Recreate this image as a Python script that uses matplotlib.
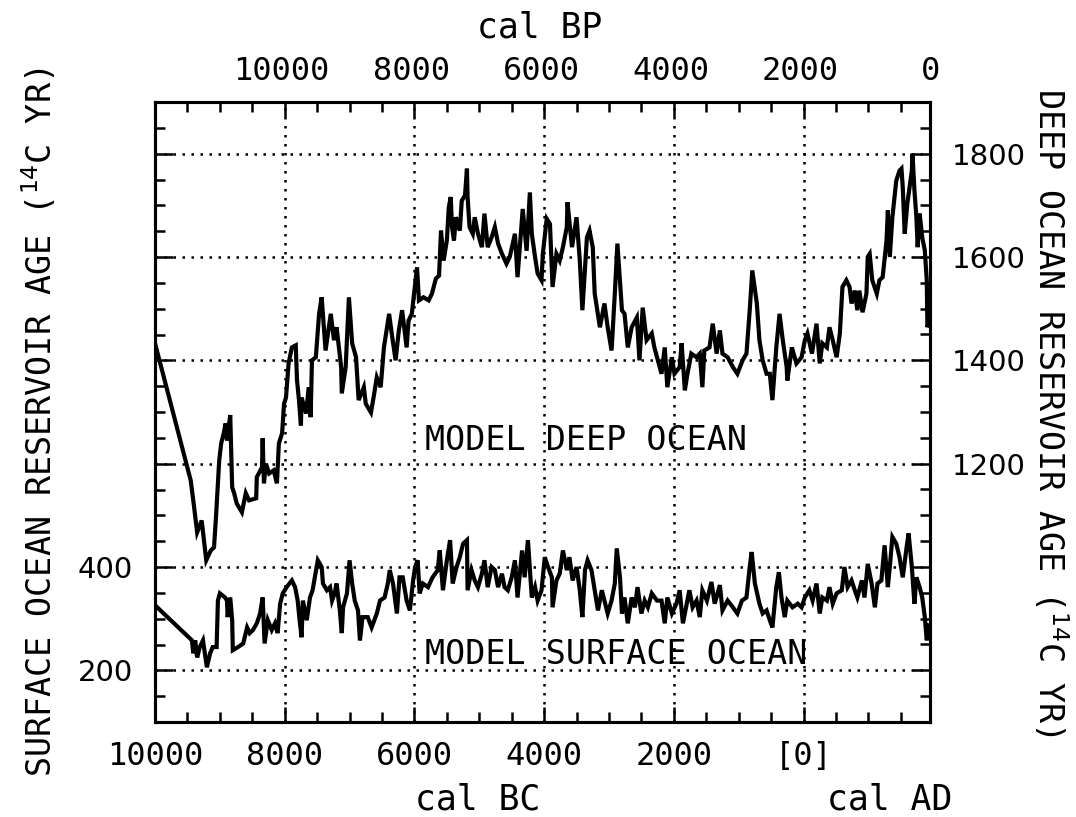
import matplotlib
matplotlib.use("Agg")
import matplotlib.pyplot as plt
from matplotlib.ticker import MultipleLocator, FixedLocator, FixedFormatter

# ---------------- data (calendar year, negative = BC ; 14C reservoir age) -------------
deep_years = [-10000, -9450, -9400, -9350, -9280, -9210, -9140, -9090, -9060, -9010,
              -8980, -8940, -8910, -8890, -8840, -8830, -8810, -8780, -8740, -8660,
              -8600, -8550, -8440, -8430, -8350, -8340, -8320, -8290, -8240, -8170,
              -8120, -8090, -8040, -8010, -7980, -7940, -7890, -7830, -7810, -7780,
              -7750, -7740, -7670, -7630, -7600, -7580, -7520, -7470, -7430, -7370,
              -7290, -7240, -7200, -7130, -7120, -7060, -7010, -6960, -6900, -6860,
              -6780, -6750, -6670, -6630, -6580, -6520, -6470, -6390, -6350, -6290,
              -6240, -6190, -6120, -6090, -6040, -5960, -5930, -5860, -5780, -5730,
              -5670, -5620, -5590, -5550, -5500, -5470, -5440, -5420, -5390, -5360,
              -5300, -5270, -5220, -5190, -5180, -5150, -5100, -5070, -5020, -4960,
              -4920, -4870, -4810, -4760, -4710, -4650, -4580, -4530, -4450, -4410,
              -4360, -4330, -4270, -4220, -4190, -4140, -4100, -4040, -4020, -3960,
              -3910, -3870, -3810, -3760, -3710, -3650, -3640, -3570, -3500, -3450,
              -3410, -3340, -3300, -3250, -3220, -3140, -3070, -3020, -2960, -2910,
              -2870, -2800, -2760, -2710, -2650, -2570, -2530, -2480, -2420, -2340,
              -2300, -2190, -2140, -2100, -2030, -1990, -1910, -1880, -1830, -1790,
              -1730, -1650, -1600, -1560, -1530, -1450, -1400, -1340, -1290, -1250,
              -1170, -1090, -1020, -940, -880, -830, -790, -720, -680, -630,
              -570, -520, -480, -420, -370, -320, -260, -250, -180, -110,
              -30, 20, 60, 130, 200, 250, 290, 360, 400, 450,
              510, 560, 600, 660, 710, 740, 790, 830, 860, 910,
              970, 990, 1020, 1060, 1130, 1170, 1220, 1280, 1300, 1330,
              1370, 1430, 1480, 1510, 1530, 1560, 1600, 1670, 1680, 1710,
              1740, 1760, 1790, 1830, 1870, 1900, 1910, 1940]
deep_age = [1433, 1168, 1119, 1067, 1090, 1013, 1032, 1038, 1096, 1206,
            1239, 1259, 1278, 1245, 1294, 1245, 1154, 1143, 1123, 1106,
            1143, 1129, 1133, 1174, 1193, 1249, 1162, 1200, 1181, 1187,
            1162, 1239, 1259, 1316, 1328, 1394, 1425, 1429, 1361, 1323,
            1274, 1328, 1297, 1348, 1290, 1400, 1406, 1490, 1522, 1419,
            1490, 1439, 1464, 1387, 1336, 1387, 1522, 1433, 1406, 1323,
            1348, 1316, 1299, 1328, 1367, 1348, 1425, 1490, 1452, 1400,
            1458, 1497, 1425, 1477, 1490, 1580, 1516, 1522, 1516, 1529,
            1558, 1564, 1651, 1593, 1632, 1696, 1716, 1658, 1632, 1677,
            1651, 1709, 1719, 1771, 1716, 1658, 1645, 1677, 1645, 1619,
            1684, 1619, 1638, 1658, 1626, 1606, 1587, 1600, 1645, 1561,
            1645, 1693, 1612, 1725, 1645, 1600, 1568, 1555, 1606, 1674,
            1664, 1542, 1606, 1593, 1619, 1658, 1706, 1619, 1677, 1593,
            1497, 1638, 1651, 1619, 1529, 1464, 1510, 1464, 1419, 1529,
            1626, 1497, 1490, 1425, 1464, 1483, 1400, 1502, 1439, 1452,
            1425, 1374, 1425, 1348, 1406, 1374, 1387, 1433, 1342, 1374,
            1413, 1406, 1413, 1348, 1419, 1425, 1471, 1413, 1458, 1413,
            1406, 1387, 1374, 1400, 1413, 1497, 1574, 1510, 1439, 1400,
            1374, 1374, 1323, 1425, 1490, 1439, 1387, 1361, 1425, 1394,
            1406, 1439, 1452, 1413, 1471, 1394, 1433, 1425, 1464, 1439,
            1406, 1452, 1542, 1555, 1542, 1510, 1535, 1497, 1535, 1493,
            1529, 1600, 1606, 1555, 1529, 1555, 1561, 1632, 1690, 1600,
            1677, 1748, 1767, 1771, 1735, 1645, 1703, 1767, 1800, 1729,
            1677, 1619, 1684, 1638, 1613, 1555, 1464, 1477]

surf_years = [-10000, -9430, -9410, -9380, -9350, -9310, -9260, -9200, -9150, -9110,
              -9050, -9030, -9000, -8920, -8890, -8880, -8840, -8810, -8800, -8720,
              -8640, -8580, -8540, -8490, -8430, -8380, -8340, -8310, -8260, -8200,
              -8150, -8110, -8070, -8030, -7970, -7890, -7840, -7800, -7770, -7740,
              -7720, -7660, -7610, -7570, -7490, -7430, -7410, -7350, -7300, -7270,
              -7230, -7200, -7150, -7120, -7100, -7040, -7000, -6960, -6920, -6870,
              -6840, -6800, -6720, -6660, -6580, -6530, -6460, -6410, -6380, -6330,
              -6270, -6230, -6180, -6120, -6070, -6020, -5990, -5950, -5920, -5870,
              -5790, -5720, -5640, -5610, -5560, -5500, -5450, -5410, -5350, -5300,
              -5250, -5190, -5180, -5120, -5070, -5020, -4960, -4920, -4870, -4810,
              -4760, -4710, -4650, -4610, -4560, -4500, -4450, -4410, -4340, -4300,
              -4250, -4190, -4140, -4100, -4040, -3990, -3940, -3880, -3870, -3810,
              -3760, -3710, -3650, -3610, -3560, -3500, -3450, -3410, -3370, -3330,
              -3270, -3220, -3170, -3110, -3070, -3020, -2960, -2910, -2880, -2830,
              -2800, -2760, -2710, -2650, -2600, -2560, -2500, -2450, -2400, -2340,
              -2260, -2190, -2140, -2100, -2030, -1960, -1910, -1860, -1800, -1760,
              -1710, -1650, -1600, -1560, -1490, -1420, -1370, -1290, -1250, -1170,
              -1090, -1020, -950, -880, -830, -800, -750, -680, -630, -570,
              -520, -480, -420, -380, -340, -290, -250, -170, -90, -30,
              20, 90, 140, 200, 250, 290, 360, 400, 450, 510,
              590, 630, 680, 740, 790, 830, 900, 940, 990, 1050,
              1100, 1140, 1200, 1250, 1300, 1330, 1370, 1430, 1480, 1530,
              1590, 1620, 1670, 1710, 1740, 1790, 1830, 1870, 1900, 1930]
surf_age = [326, 258, 233, 258, 225, 245, 258, 206, 233, 245,
            245, 335, 349, 341, 335, 303, 341, 297, 239, 245,
            252, 283, 272, 278, 291, 310, 341, 252, 297, 278,
            291, 272, 329, 349, 361, 374, 361, 335, 297, 264,
            335, 297, 341, 355, 413, 400, 368, 355, 361, 335,
            349, 368, 316, 272, 322, 349, 413, 368, 335, 316,
            258, 303, 303, 283, 310, 335, 341, 368, 394, 368,
            310, 380, 380, 335, 316, 374, 400, 413, 349, 368,
            361, 380, 394, 432, 355, 413, 452, 368, 400, 419,
            445, 452, 355, 394, 374, 361, 387, 413, 361, 400,
            394, 361, 387, 361, 355, 380, 413, 341, 432, 380,
            452, 341, 361, 335, 355, 419, 400, 380, 322, 374,
            387, 432, 394, 419, 374, 400, 355, 303, 394, 413,
            394, 355, 316, 355, 335, 310, 335, 368, 436, 380,
            310, 341, 291, 341, 322, 361, 310, 335, 322, 349,
            335, 335, 291, 341, 310, 329, 355, 291, 329, 355,
            322, 335, 303, 355, 335, 371, 329, 365, 316, 335,
            322, 310, 335, 341, 400, 429, 368, 329, 310, 316,
            297, 283, 361, 390, 341, 303, 335, 322, 329, 322,
            341, 355, 335, 368, 310, 341, 335, 361, 329, 349,
            355, 400, 361, 374, 355, 341, 374, 341, 406, 368,
            322, 368, 374, 442, 361, 400, 458, 445, 419, 380,
            439, 465, 400, 329, 380, 361, 341, 303, 258, 287]

deep_offset = 600  # deep-ocean scale is shifted by this amount relative to surface scale

bottom_ticks = [-10000, -8000, -6000, -4000, -2000, 0]
bottom_labels = ["10000", "8000", "6000", "4000", "2000", "[0]"]
top_ticks_bp = [10000, 8000, 6000, 4000, 2000, 0]
left_ticks = [200, 400, 600, 800, 1000, 1200]
left_labels = ["200", "400", "", "", "", ""]
right_ticks = [800, 1000, 1200, 1400, 1600, 1800]
right_labels = ["", "", "1200", "1400", "1600", "1800"]

# ---------------- figure ----------------
MONO = "DejaVu Sans Mono"
fig = plt.figure(figsize=(10.76, 8.17), dpi=100)
ax = fig.add_axes([155/1076, 1 - 722/817, (930 - 155)/1076, (722 - 102)/817])

LW = 3.0
ax.plot(surf_years, surf_age, color="black", lw=LW, solid_joinstyle="miter")
ax.plot(deep_years, [v - deep_offset for v in deep_age], color="black", lw=LW,
        solid_joinstyle="miter")

ax.set_xlim(-10000, 1950)
ax.set_ylim(100, 1300)

ax.xaxis.set_major_locator(FixedLocator(bottom_ticks))
ax.xaxis.set_major_formatter(FixedFormatter(bottom_labels))
ax.xaxis.set_minor_locator(MultipleLocator(500))
ax.yaxis.set_major_locator(FixedLocator(left_ticks))
ax.yaxis.set_major_formatter(FixedFormatter(left_labels))
ax.yaxis.set_minor_locator(MultipleLocator(50))
ax.grid(True, which="major", color="black", linestyle=(0, (1, 2.6)), lw=1.8)

for s in ax.spines.values():
    s.set_linewidth(2.2)

ax.tick_params(axis="x", which="both", direction="in", top=True, bottom=True,
               width=1.8, pad=14)
ax.tick_params(axis="x", which="major", length=11)
ax.tick_params(axis="x", which="minor", length=7)
ax.tick_params(axis="y", which="both", direction="in", left=True, right=False,
               width=1.8, pad=16)
ax.tick_params(axis="y", which="major", length=13)
ax.tick_params(axis="y", which="minor", length=7)
for lab in ax.get_xticklabels():
    lab.set_fontfamily(MONO)
    lab.set_fontsize(23)
for lab in ax.get_yticklabels():
    lab.set_fontfamily("DejaVu Sans")
    lab.set_fontsize(21)

# right axis (deep ocean)
ax2 = ax.twinx()
ax2.set_ylim(100 + deep_offset, 1300 + deep_offset)
ax2.yaxis.set_major_locator(FixedLocator(right_ticks))
ax2.yaxis.set_major_formatter(FixedFormatter(right_labels))
ax2.yaxis.set_minor_locator(MultipleLocator(50))
ax2.tick_params(axis="y", which="both", direction="in", right=True, left=False,
                width=1.8, pad=16)
ax2.tick_params(axis="y", which="major", length=13)
ax2.tick_params(axis="y", which="minor", length=7)
for s in ax2.spines.values():
    s.set_linewidth(2.2)
for lab in ax2.get_yticklabels():
    lab.set_fontfamily("DejaVu Sans")
    lab.set_fontsize(21)

# top axis (cal BP)
sec = ax.secondary_xaxis("top", functions=(lambda x: 1950 - x, lambda b: 1950 - b))
sec.set_xticks(top_ticks_bp)
sec.set_xticklabels([str(t) for t in top_ticks_bp])
sec.tick_params(axis="x", length=0, pad=11)
sec.spines["top"].set_visible(False)
for lab in sec.get_xticklabels():
    lab.set_fontfamily(MONO)
    lab.set_fontsize(23)

# labels
fig.text(540/1076, 1 - 28/817, "cal BP", family=MONO, fontsize=25, ha="center", va="center")
fig.text(478/1076, 1 - 800/817, "cal BC", family=MONO, fontsize=25, ha="center", va="center")
fig.text(890/1076, 1 - 800/817, "cal AD", family=MONO, fontsize=25, ha="center", va="center")
fig.text(40/1076, 1 - 422/817, r"SURFACE OCEAN RESERVOIR AGE ($^{14}$C YR)", family=MONO,
         fontsize=24, rotation=90, ha="center", va="center")
fig.text(1050/1076, 1 - 412/817, r"DEEP OCEAN RESERVOIR AGE ($^{14}$C YR)", family=MONO,
         fontsize=24, rotation=-90, ha="center", va="center")

ax.text(-5840, 645, "MODEL DEEP OCEAN", family=MONO, fontsize=24, ha="left", va="center")
ax.text(-5840, 230, "MODEL SURFACE OCEAN", family=MONO, fontsize=24, ha="left", va="center")

fig.savefig("out.png", dpi=100)
